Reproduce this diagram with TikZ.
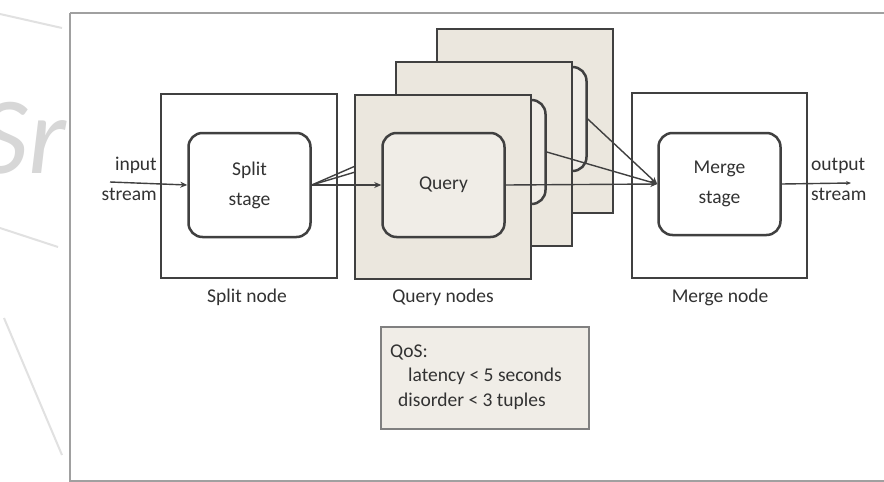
\documentclass[tikz,border=0pt]{standalone}
\usepackage{fontspec}
\setmainfont{Carlito}
\usetikzlibrary{arrows.meta}
\definecolor{beige}{RGB}{235,231,222}
\definecolor{beigelt}{RGB}{240,237,231}
\definecolor{ln}{RGB}{64,64,64}
\definecolor{txt}{RGB}{50,50,50}
\definecolor{frame}{RGB}{160,160,160}
\definecolor{wm}{RGB}{225,225,225}
\tikzset{
  outerbox/.style={draw=ln, line width=2.7pt, minimum width=176pt, minimum height=184pt, inner sep=0pt},
  qbox/.style={outerbox, fill=beige},
  stagebox/.style={draw=ln, line width=2.5pt, rounded corners=14pt, minimum width=122pt, minimum height=104pt, align=center, inner sep=0pt, font=\fontsize{19.5}{30}\selectfont, text=txt},
  qstage/.style={stagebox, fill=beigelt},
  lbl/.style={font=\fontsize{19.5}{30}\selectfont, text=txt, inner sep=0pt},
  conn/.style={draw=ln, line width=1.4pt},
  arr/.style={conn, -{Stealth[length=7pt,width=6pt]}}
}
\begin{document}
\begin{tikzpicture}[x=1pt,y=-1pt]
\useasboundingbox (0,0) rectangle (884,482);
\clip (0,0) rectangle (884,482);
\fill[white] (0,0) rectangle (884,482);
% watermark
\draw[wm, line width=2pt] (0,14) -- (62,28);
\draw[wm, line width=2pt] (0,228) -- (58,247);
\draw[wm, line width=2pt] (4,318) -- (62,455);
\node[wm!90!gray, font=\fontsize{110}{110}\selectfont\itshape, anchor=east, inner sep=0pt] (wmtext) at (66,138) {Sr};
% outer frame
\draw[frame, line width=2.5pt] (70,13) -- (900,13);
\draw[frame, line width=2.5pt] (70,13) -- (70,481) -- (900,481);
% split node
\node[outerbox] (splitnode) at (249,186) {};
\node[stagebox] (splitstage) at (249.5,185) {Split\\stage};
\node[lbl] (splitlbl) at (247,297) {Split node};
% input
\coordinate (in) at (110,182);
\node[lbl, align=right, anchor=east] (inlbl) at (157,179) {input\\stream};
\draw[arr] (in) -- (splitstage.west);
% query nodes: back, middle
\node[qbox] (q3) at (525,121) {};
\node[qstage] (q3s) at (525.5,119) {};
\node[qbox] (q2) at (484,154) {};
\node[qstage] (q2s) at (484.5,152) {};
% hidden lines from split to back queries
\draw[conn] (splitstage.east) -- (q3s.west);
\draw[conn] (splitstage.east) -- (q2s.west);
% front query
\node[qbox] (q1) at (443,187) {};
\node[qstage] (q1s) at (443.5,185) {Query};
\node[lbl] (qlbl) at (443,297) {Query nodes};
\draw[arr] (splitstage.east) -- (q1s.west);
% merge node
\node[outerbox, minimum height=185pt, minimum width=175pt] (mergenode) at (719.5,185.5) {};
\node[stagebox, minimum height=102pt] (mergestage) at (719.5,184) {Merge\\stage};
\node[lbl] (mlbl) at (720,297) {Merge node};
\draw[arr] (q1s.east) -- (mergestage.west);
\draw[arr] (q2s.east) -- (mergestage.west);
\draw[arr] (q3s.east) -- (mergestage.west);
% output
\coordinate (out) at (851,183);
\node[lbl, align=left, anchor=west] (outlbl) at (811,179) {output\\stream};
\draw[arr, -{Stealth[length=5pt,width=4pt]}] (mergestage.east) -- (out);
% QoS
\node[draw=frame!80!black, line width=2.2pt, fill=beigelt, minimum width=208pt, minimum height=102pt, inner sep=0pt] (qos) at (485,378) {};
\node[lbl, align=left, anchor=west, font=\fontsize{19.5}{24.5}\selectfont] (qostext) at (390,377) {QoS:\\\hspace*{18pt}latency < 5 seconds\\\hspace*{8pt}disorder < 3 tuples};
\end{tikzpicture}
\end{document}
